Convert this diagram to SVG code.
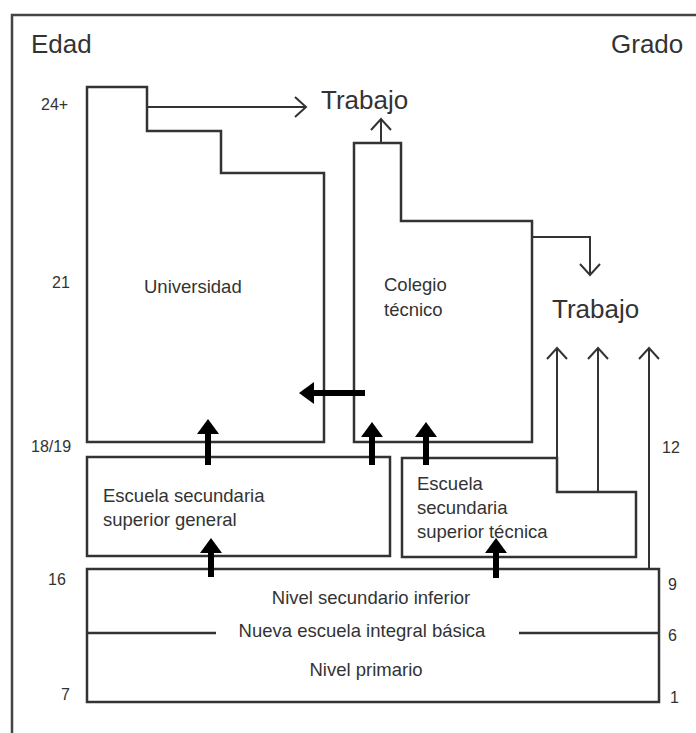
<svg xmlns="http://www.w3.org/2000/svg" width="696" height="733" viewBox="0 0 696 733">
<style>
.box{fill:none;stroke:#333;stroke-width:2.5;stroke-linejoin:miter}
.thin{fill:none;stroke:#333;stroke-width:2}
.thick{fill:none;stroke:#000;stroke-width:6}
text{font-family:"Liberation Sans",Arial,sans-serif;fill:#333}
.big{font-size:26px}
.num{font-size:16px}
.lbl{font-size:18.5px}
</style>
<defs>
<marker id="chev" markerUnits="userSpaceOnUse" markerWidth="30" markerHeight="30" viewBox="-15 -15 30 30" refX="0" refY="0" orient="auto">
<path d="M-11,-10 L0,0 L-11,10" fill="none" stroke="#333" stroke-width="2"/>
</marker>
<marker id="fat" markerUnits="userSpaceOnUse" markerWidth="40" markerHeight="40" viewBox="-5 -20 40 40" refX="0" refY="0" orient="auto">
<path d="M0,-11 L15,0 L0,11 Z" fill="#000"/>
</marker>
</defs>
<rect x="12" y="15" width="700" height="740" fill="none" stroke="#444" stroke-width="2.5"/>
<g id="axis-labels">
<text class="big" x="31" y="53">Edad</text>
<text class="big" x="611" y="53">Grado</text>
<text class="num" x="41" y="110">24+</text>
<text class="num" x="52" y="288">21</text>
<text class="num" x="31" y="452">18/19</text>
<text class="num" x="662" y="453">12</text>
<text class="num" x="48" y="585">16</text>
<text class="num" x="61" y="700">7</text>
<text class="num" x="668" y="590">9</text>
<text class="num" x="668" y="641">6</text>
<text class="num" x="670" y="703">1</text>
</g>
<g id="universidad">
<path class="box" d="M87,87 L147,87 L147,131 L221,131 L221,173 L324,173 L324,442 L87,442 Z"/>
<text class="lbl" x="144" y="293">Universidad</text>
</g>
<g id="colegio">
<path class="box" d="M354,143 L401,143 L401,221 L532,221 L532,442 L354,442 Z"/>
<text class="lbl" x="384" y="291">Colegio</text>
<text class="lbl" x="384" y="316">técnico</text>
</g>
<g id="trabajo1"><text class="big" x="321" y="109">Trabajo</text></g>
<g id="trabajo2"><text class="big" x="552" y="318">Trabajo</text></g>
<g id="sec-general">
<rect class="box" x="87" y="457" width="303" height="99"/>
<text class="lbl" x="103" y="502">Escuela secundaria</text>
<text class="lbl" x="103" y="526">superior general</text>
</g>
<g id="sec-tecnica">
<path class="box" d="M402,458 L557,458 L557,492 L636,492 L636,557 L402,557 Z"/>
<text class="lbl" x="417" y="490">Escuela</text>
<text class="lbl" x="417" y="514">secundaria</text>
<text class="lbl" x="417" y="538">superior técnica</text>
</g>
<g id="basica">
<rect class="box" x="87" y="569" width="572" height="133"/>
<path class="box" d="M87,633 L216,633 M519,633 L659,633"/>
<text class="lbl" x="371" y="604" text-anchor="middle">Nivel secundario inferior</text>
<text class="lbl" x="362" y="637" text-anchor="middle">Nueva escuela integral básica</text>
<text class="lbl" x="366" y="676" text-anchor="middle">Nivel primario</text>
</g>
<g id="connectors">
<path class="thin" d="M147,107 L306,107" marker-end="url(#chev)"/>
<path class="thin" d="M381,143 L381,119" marker-end="url(#chev)"/>
<path class="thin" d="M532,237 L590,237 L590,275" marker-end="url(#chev)"/>
<path class="thin" d="M557,458 L557,348" marker-end="url(#chev)"/>
<path class="thin" d="M598,492 L598,348" marker-end="url(#chev)"/>
<path class="thin" d="M649,569 L649,348" marker-end="url(#chev)"/>
<path class="thick" d="M365,393 L314,393" marker-end="url(#fat)"/>
<path class="thick" d="M208,465 L208,434" marker-end="url(#fat)"/>
<path class="thick" d="M372,465 L372,437" marker-end="url(#fat)"/>
<path class="thick" d="M426,465 L426,437" marker-end="url(#fat)"/>
<path class="thick" d="M211,577 L211,553" marker-end="url(#fat)"/>
<path class="thick" d="M496,578 L496,553" marker-end="url(#fat)"/>
</g>
</svg>
